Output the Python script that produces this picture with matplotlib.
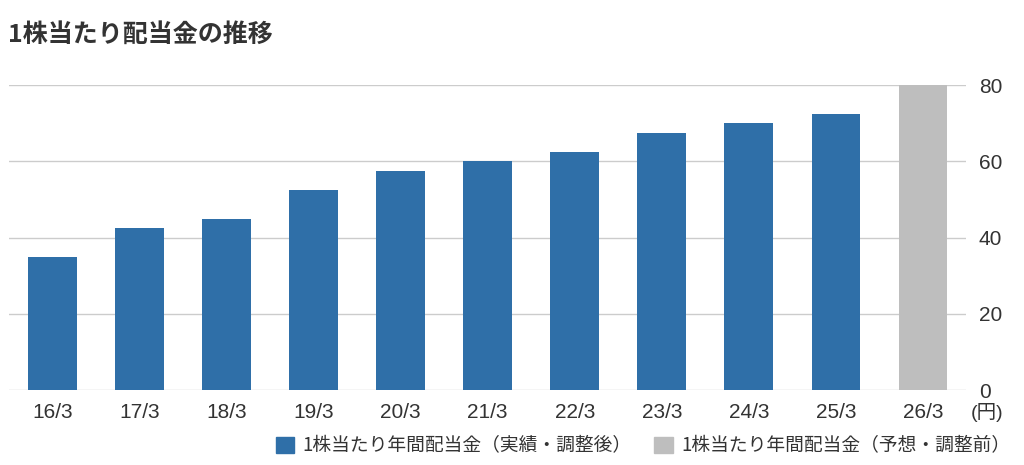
import matplotlib.pyplot as plt
from matplotlib.patches import Patch

plt.rcParams['font.family'] = ['Noto Sans CJK JP', 'DejaVu Sans']

years = ['16/3', '17/3', '18/3', '19/3', '20/3', '21/3', '22/3', '23/3', '24/3', '25/3', '26/3']
dividends = [35, 42.5, 45, 52.5, 57.5, 60, 62.5, 67.5, 70, 72.5, 80]
is_forecast = [False] * 10 + [True]
y_ticks = [0, 20, 40, 60, 80]

label_actual = '1株当たり年間配当金（実績・調整後）'
label_forecast = '1株当たり年間配当金（予想・調整前）'

blue = '#2F6FA8'
gray = '#BEBEBE'
text_color = '#333333'
num_font = ['Liberation Sans', 'Noto Sans CJK JP']

fig = plt.figure(figsize=(10.24, 4.65), dpi=100)
ax = fig.add_axes([0.0088, 0.161, 0.935, 0.656])

colors = [gray if f else blue for f in is_forecast]
ax.bar(range(len(years)), dividends, width=0.56, color=colors, zorder=3)

ax.set_xlim(-0.5, len(years) - 0.5)
ax.set_ylim(0, 80)
ax.set_xticks(range(len(years)))
ax.set_xticklabels(years, fontsize=15, color=text_color, family=num_font)
ax.set_yticks(y_ticks)
ax.set_yticklabels([str(v) for v in y_ticks], fontsize=15, color=text_color, family=num_font)
ax.yaxis.tick_right()
ax.tick_params(axis='y', length=0, pad=9)
ax.tick_params(axis='x', length=0, pad=9)
ax.grid(axis='y', color='#CCCCCC', linewidth=1, zorder=0)
for s in ax.spines.values():
    s.set_visible(False)

# unit label next to the x tick labels
ax.text(1.004, -0.072, '(円)', transform=ax.transAxes, fontsize=14,
        color=text_color, ha='left', va='center', family=num_font)

fig.text(0.008, 0.925, '1株当たり配当金の推移', fontsize=18, fontweight='bold',
         color=text_color, ha='left', va='center')

handles = [Patch(color=blue, label=label_actual), Patch(color=gray, label=label_forecast)]
fig.legend(handles=handles, loc='center right', bbox_to_anchor=(0.987, 0.041), ncol=2,
           frameon=False, fontsize=13.5, handlelength=1.0, handleheight=1.0,
           handletextpad=0.45, columnspacing=1.2, borderaxespad=0, borderpad=0,
           labelcolor=text_color)

fig.savefig('out.png', dpi=100)
